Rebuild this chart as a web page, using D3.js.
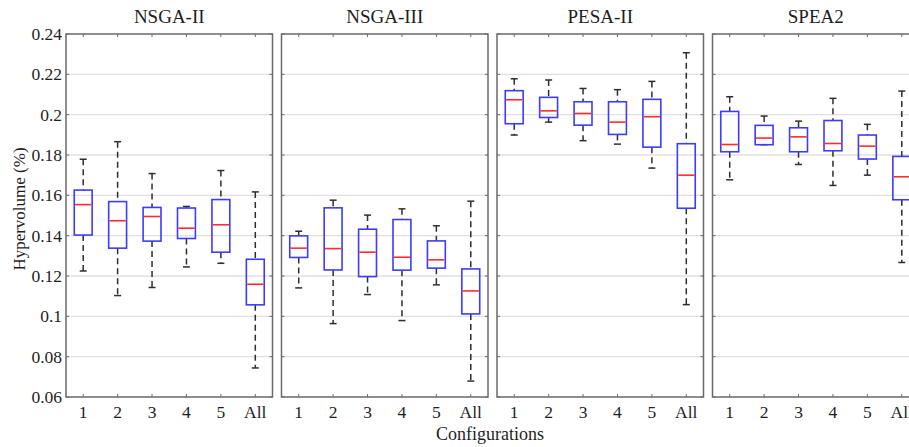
<!DOCTYPE html>
<html>
<head>
<meta charset="utf-8">
<script src="https://cdn.jsdelivr.net/npm/d3@7"></script>
<style>
  body { margin: 0; background: #fff; }
  svg { display: block; }
</style>
</head>
<body>
<div id="chart"></div>
<script>
// Box plot stats per configuration: [lower whisker, q1, median, q3, upper whisker]
const algorithms = ["NSGA-II", "NSGA-III", "PESA-II", "SPEA2"];
const configurations = ["1", "2", "3", "4", "5", "All"];
const yTicks = [0.06, 0.08, 0.1, 0.12, 0.14, 0.16, 0.18, 0.2, 0.22, 0.24];

const nsga2Stats = [
    [0.1225, 0.1403, 0.1554, 0.1626, 0.1779],
    [0.1103, 0.1338, 0.1474, 0.1569, 0.1866],
    [0.1143, 0.1373, 0.1495, 0.1540, 0.1708],
    [0.1245, 0.1386, 0.1437, 0.1537, 0.1545],
    [0.1263, 0.1318, 0.1454, 0.1579, 0.1723],
    [0.0744, 0.1057, 0.1159, 0.1283, 0.1617]
];
const nsga3Stats = [
    [0.1141, 0.1292, 0.1338, 0.1399, 0.1422],
    [0.0964, 0.1230, 0.1336, 0.1538, 0.1576],
    [0.1108, 0.1197, 0.1318, 0.1432, 0.1502],
    [0.0979, 0.1229, 0.1293, 0.1480, 0.1533],
    [0.1156, 0.1239, 0.1280, 0.1374, 0.1449],
    [0.0679, 0.1012, 0.1126, 0.1235, 0.1571]
];
const pesa2Stats = [
    [0.1899, 0.1955, 0.2074, 0.2119, 0.2178],
    [0.1963, 0.1986, 0.2019, 0.2086, 0.2172],
    [0.1871, 0.1948, 0.2006, 0.2064, 0.2130],
    [0.1854, 0.1902, 0.1963, 0.2064, 0.2124],
    [0.1735, 0.1839, 0.1990, 0.2076, 0.2165],
    [0.1058, 0.1536, 0.1700, 0.1856, 0.2307]
];
const spea2Stats = [
    [0.1677, 0.1816, 0.1852, 0.2016, 0.2089],
    [0.1851, 0.1851, 0.1884, 0.1947, 0.1993],
    [0.1753, 0.1816, 0.1890, 0.1935, 0.1968],
    [0.1649, 0.1821, 0.1857, 0.1971, 0.2081],
    [0.1700, 0.1780, 0.1844, 0.1899, 0.1952],
    [0.1267, 0.1578, 0.1692, 0.1793, 0.2117]
];
const allStats = [nsga2Stats, nsga3Stats, pesa2Stats, spea2Stats];

// Layout
const svgWidth = 909, svgHeight = 447;
const plotTop = 34, plotBottom = 397;
const panelLeft = 66, panelStep = 215.5, panelWidth = 206.5;
const font = "'Liberation Serif', 'Times New Roman', serif";
const textColor = "#1e1e1e";
const frameColor = "#6a6a6a";
const whiskerColor = "#2e2e2e";

const svg = d3.select("#chart")
    .append("svg")
    .attr("width", svgWidth)
    .attr("height", svgHeight);

const yScale = d3.scaleLinear()
    .domain([0.06, 0.24])
    .range([plotBottom, plotTop]);

const xScale = d3.scalePoint()
    .domain(configurations)
    .range([0, panelWidth])
    .padding(0.5);

const boxWidth = xScale.step() * 0.52;
const capWidth = 7;

algorithms.forEach(function(alg, i) {
    const stats = allStats[i];
    const g = svg.append("g")
        .attr("transform", `translate(${panelLeft + i * panelStep},0)`);

    // Grid lines
    g.selectAll(".grid")
        .data(yTicks.slice(1, -1))
        .enter()
        .append("line")
        .attr("x1", 0)
        .attr("x2", panelWidth)
        .attr("y1", d => yScale(d))
        .attr("y2", d => yScale(d))
        .attr("stroke", "#e0e0e0")
        .attr("stroke-width", 1.3);

    // Inward x ticks top and bottom
    [plotTop, plotBottom].forEach(function(yy, k) {
        g.selectAll(".xtick" + k)
            .data(configurations)
            .enter()
            .append("line")
            .attr("x1", d => xScale(d))
            .attr("x2", d => xScale(d))
            .attr("y1", yy)
            .attr("y2", k === 0 ? yy + 3 : yy - 3)
            .attr("stroke", frameColor)
            .attr("stroke-width", 1);
    });

    // Inward y ticks on left and right
    [0, panelWidth].forEach(function(xx, k) {
        g.selectAll(".ytick" + k)
            .data(yTicks)
            .enter()
            .append("line")
            .attr("x1", xx)
            .attr("x2", k === 0 ? xx + 3 : xx - 3)
            .attr("y1", d => yScale(d))
            .attr("y2", d => yScale(d))
            .attr("stroke", frameColor)
            .attr("stroke-width", 1);
    });

    // Boxes
    const box = g.selectAll(".box")
        .data(stats.map((s, j) => ({ key: configurations[j], s: s })))
        .enter()
        .append("g")
        .attr("class", "box")
        .attr("transform", d => `translate(${xScale(d.key)},0)`);

    // Whiskers (dashed)
    box.append("line")
        .attr("x1", 0).attr("x2", 0)
        .attr("y1", d => yScale(d.s[4]))
        .attr("y2", d => yScale(d.s[3]))
        .attr("stroke", whiskerColor)
        .attr("stroke-width", 1.5)
        .attr("stroke-dasharray", "6,4");

    box.append("line")
        .attr("x1", 0).attr("x2", 0)
        .attr("y1", d => yScale(d.s[1]))
        .attr("y2", d => yScale(d.s[0]))
        .attr("stroke", whiskerColor)
        .attr("stroke-width", 1.5)
        .attr("stroke-dasharray", "6,4");

    // Caps
    [0, 4].forEach(function(idx) {
        box.append("line")
            .attr("x1", -capWidth / 2).attr("x2", capWidth / 2)
            .attr("y1", d => yScale(d.s[idx]))
            .attr("y2", d => yScale(d.s[idx]))
            .attr("stroke", whiskerColor)
            .attr("stroke-width", 1.5);
    });

    box.append("rect")
        .attr("x", -boxWidth / 2)
        .attr("width", boxWidth)
        .attr("y", d => yScale(d.s[3]))
        .attr("height", d => yScale(d.s[1]) - yScale(d.s[3]))
        .attr("fill", "none")
        .attr("stroke", "#3c3cff")
        .attr("stroke-width", 1.6);

    box.append("line")
        .attr("x1", -boxWidth / 2 + 0.8).attr("x2", boxWidth / 2 - 0.8)
        .attr("y1", d => yScale(d.s[2]))
        .attr("y2", d => yScale(d.s[2]))
        .attr("stroke", "#ff2b2b")
        .attr("stroke-width", 1.6);

    // Frame
    g.append("rect")
        .attr("x", 0)
        .attr("y", plotTop)
        .attr("width", panelWidth)
        .attr("height", plotBottom - plotTop)
        .attr("fill", "none")
        .attr("stroke", frameColor)
        .attr("stroke-width", 1.5);

    // X tick labels
    g.selectAll(".xlabel")
        .data(configurations)
        .enter()
        .append("text")
        .attr("x", d => xScale(d))
        .attr("y", 418)
        .attr("text-anchor", "middle")
        .attr("font-family", font)
        .attr("font-size", "17.5px")
        .attr("fill", textColor)
        .text(d => d);

    // Panel title
    g.append("text")
        .attr("x", panelWidth / 2)
        .attr("y", 23)
        .attr("text-anchor", "middle")
        .attr("font-family", font)
        .attr("font-size", "19px")
        .attr("fill", textColor)
        .text(alg);

    // Y tick labels on first panel only
    if (i === 0) {
        g.selectAll(".ylabel")
            .data(yTicks)
            .enter()
            .append("text")
            .attr("x", -4)
            .attr("y", d => yScale(d))
            .attr("dy", "0.35em")
            .attr("text-anchor", "end")
            .attr("font-family", font)
            .attr("font-size", "17.5px")
            .attr("fill", textColor)
            .text(d => d3.format("")(+d.toFixed(2)));
    }
});

// Axis titles
svg.append("text")
    .attr("transform", "translate(25,209) rotate(-90)")
    .attr("text-anchor", "middle")
    .attr("font-family", font)
    .attr("font-size", "17px")
    .attr("fill", textColor)
    .text("Hypervolume (%)");

svg.append("text")
    .attr("x", 490)
    .attr("y", 440)
    .attr("text-anchor", "middle")
    .attr("font-family", font)
    .attr("font-size", "18px")
    .attr("fill", textColor)
    .text("Configurations");
</script>
</body>
</html>
